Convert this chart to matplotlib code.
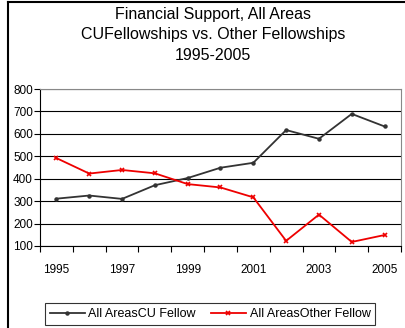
import numpy as np
import matplotlib.pyplot as plt
from matplotlib.lines import Line2D

plt.rcParams['font.family'] = ['Liberation Sans', 'DejaVu Sans']

years = [1995, 1996, 1997, 1998, 1999, 2000, 2001, 2002, 2003, 2004, 2005]
cu_fellow = [311, 325, 310, 371, 403, 449, 471, 617, 578, 689, 633]
other_fellow = [492, 423, 439, 424, 376, 361, 317, 123, 240, 118, 149]
year_labels = [str(y) if i % 2 == 0 else '' for i, y in enumerate(years)]

W, H = 406, 328
fig = plt.figure(figsize=(W / 100, H / 100), dpi=100)

# borda do gráfico (só esquerda e topo ficam visíveis)
fig.add_artist(Line2D([8 / W, 8 / W], [0, 1 - 2 / H], color='black', lw=1.5))
fig.add_artist(Line2D([8 / W, 1], [1 - 2 / H, 1 - 2 / H], color='black', lw=1.5))

# área do gráfico
x0, x1, y0, y1 = 40, 401, 246, 89
ax = fig.add_axes([x0 / W, 1 - y0 / H, (x1 - x0) / W, (y0 - y1) / H])

x = np.arange(len(years))
ax.plot(x, cu_fellow, color='#333333', lw=1.3, marker='o', ms=2.2,
        label='All AreasCU Fellow')
ax.plot(x, other_fellow, color='#ee0000', lw=1.3, marker='x', ms=3.5, mew=1.2,
        label='All AreasOther Fellow')

ax.set_xlim(-0.5, len(years) - 0.5)
ax.set_ylim(100, 800)
ax.set_yticks(range(100, 801, 100))
ax.yaxis.grid(True, color='black', lw=0.8)
ax.set_axisbelow(True)

# rótulos das categorias e ticks entre elas
ax.set_xticks(x)
ax.set_xticklabels(year_labels)
ax.set_xticks(np.arange(-0.5, len(years), 1), minor=True)
ax.tick_params(axis='x', which='major', length=0, pad=13, labelsize=8.5)
ax.tick_params(axis='x', which='minor', length=4, width=0.8, direction='out')
ax.tick_params(axis='y', length=4, width=0.8, direction='out', pad=1, labelsize=8.5)

for s in ['top', 'right']:
    ax.spines[s].set_color('#888888')
for s in ['left', 'bottom']:
    ax.spines[s].set_color('black')

fig.text(213 / W, 1 - 15 / H, 'Financial Support, All Areas', ha='center', va='center', fontsize=11.5)
fig.text(213 / W, 1 - 35 / H, 'CUFellowships vs. Other Fellowships', ha='center', va='center', fontsize=11.5)
fig.text(213 / W, 1 - 55 / H, '1995-2005', ha='center', va='center', fontsize=11.5)

leg = fig.legend(loc='center', bbox_to_anchor=(210 / W, 1 - 314 / H), ncol=2,
                 fontsize=9, frameon=True, fancybox=False, edgecolor='black',
                 handlelength=2.8, columnspacing=1.2, handletextpad=0.3,
                 borderpad=0.4)
leg.get_frame().set_linewidth(0.8)

fig.savefig('out.png', dpi=100)
